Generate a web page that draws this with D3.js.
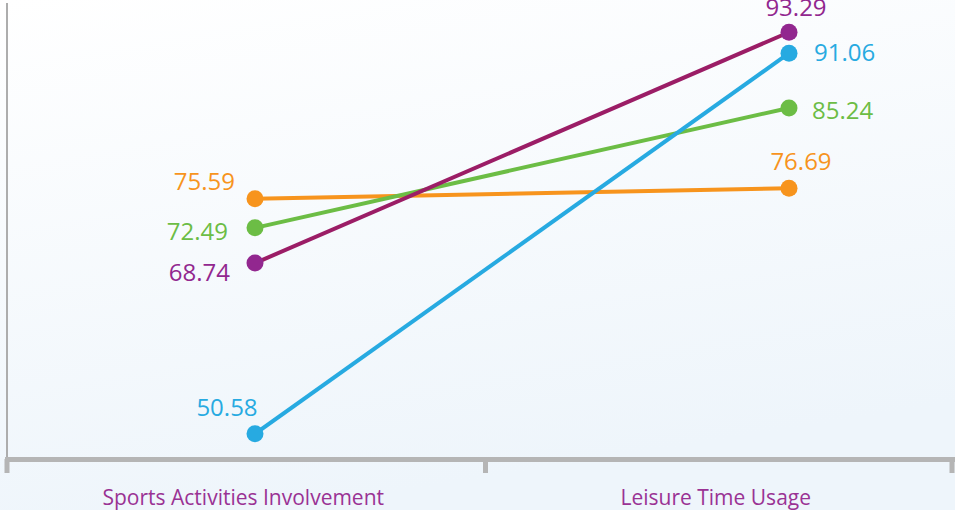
<!DOCTYPE html>
<html>
<head>
<meta charset="utf-8">
<script src="https://cdn.jsdelivr.net/npm/d3@7"></script>
<style>
  html, body { margin: 0; padding: 0; overflow: hidden; }
  svg { display: block; }
</style>
</head>
<body>
<svg id="chart" width="955" height="510"></svg>
<script>
// Categories on the horizontal axis
const categories = ["Sports Activities Involvement", "Leisure Time Usage"];

// Series values, one per category
const seriesOrange = [75.59, 76.69];
const seriesGreen  = [72.49, 85.24];
const seriesPurple = [68.74, 93.29];
const seriesBlue   = [50.58, 91.06];

const series = [
  { values: seriesOrange, line: "#f7941d", dot: "#f7941d", text: "#f7941d",
    labels: [{ a: "end", dx: -20, dy: -9 }, { a: "middle", dx: 12, dy: -18 }] },
  { values: seriesGreen, line: "#6cbd45", dot: "#6cbd45", text: "#6cbd45",
    labels: [{ a: "end", dx: -27, dy: 12 }, { a: "start", dx: 23, dy: 11 }] },
  { values: seriesPurple, line: "#9b1d66", dot: "#92278f", text: "#92278f",
    labels: [{ a: "end", dx: -25, dy: 18 }, { a: "middle", dx: 7, dy: -16 }] },
  { values: seriesBlue, line: "#27aae1", dot: "#27aae1", text: "#27aae1",
    labels: [{ a: "middle", dx: -28, dy: -18 }, { a: "start", dx: 25, dy: 8 }] }
];

const svg = d3.select("#chart");
const W = 955, H = 510;

// Soft background wash
const defs = svg.append("defs");
const grad = defs.append("linearGradient")
  .attr("id", "bg").attr("x1", 0).attr("y1", 0).attr("x2", 0.3).attr("y2", 1);
grad.append("stop").attr("offset", "0%").attr("stop-color", "#ffffff");
grad.append("stop").attr("offset", "100%").attr("stop-color", "#eef5fb");
svg.append("rect").attr("width", W).attr("height", H).attr("fill", "url(#bg)");

// Scales
const xBand = d3.scaleBand().domain(categories).range([7, 952]);
const xPoint = d3.scalePoint().domain(categories).range([255, 789]);
const y = d3.scaleLinear().domain([47.8, 96.4]).range([460, 3]);

// Vertical axis line
svg.append("line")
  .attr("x1", 7).attr("x2", 7)
  .attr("y1", y.range()[1]).attr("y2", y.range()[0])
  .attr("stroke", "#adadad").attr("stroke-width", 2);

// Horizontal axis with divider ticks
const axisG = svg.append("g");
axisG.append("line")
  .attr("x1", 5).attr("x2", W)
  .attr("y1", 459.5).attr("y2", 459.5)
  .attr("stroke", "#b5b5b5").attr("stroke-width", 5);

const dividers = [7, 485.5, 952];
axisG.selectAll("line.tick")
  .data(dividers)
  .join("line")
  .attr("class", "tick")
  .attr("x1", d => d).attr("x2", d => d)
  .attr("y1", 459).attr("y2", 473)
  .attr("stroke", "#b5b5b5").attr("stroke-width", 5);

axisG.selectAll("text.cat")
  .data(categories)
  .join("text")
  .attr("class", "cat")
  .attr("x", d => xBand(d) + xBand.bandwidth() / 2)
  .attr("y", 505)
  .attr("text-anchor", "middle")
  .attr("font-family", "'Open Sans', sans-serif")
  .attr("font-size", 21)
  .attr("fill", "#9a3294")
  .text(d => d);

// Lines, dots and value labels
const line = d3.line()
  .x((d, i) => xPoint(categories[i]))
  .y(d => y(d));

const g = svg.append("g");
series.forEach(s => {
  g.append("path")
    .attr("d", line(s.values))
    .attr("fill", "none")
    .attr("stroke", s.line)
    .attr("stroke-width", 4);
});
series.forEach(s => {
  g.selectAll(null)
    .data(s.values)
    .join("circle")
    .attr("cx", (d, i) => xPoint(categories[i]))
    .attr("cy", d => y(d))
    .attr("r", 8.5)
    .attr("fill", s.dot);

  g.selectAll(null)
    .data(s.values)
    .join("text")
    .attr("x", (d, i) => xPoint(categories[i]) + s.labels[i].dx)
    .attr("y", (d, i) => y(d) + s.labels[i].dy)
    .attr("text-anchor", (d, i) => s.labels[i].a)
    .attr("font-family", "'Open Sans', sans-serif")
    .attr("font-size", 24)
    .attr("fill", s.text)
    .text(d => d.toFixed(2));
});
</script>
</body>
</html>
